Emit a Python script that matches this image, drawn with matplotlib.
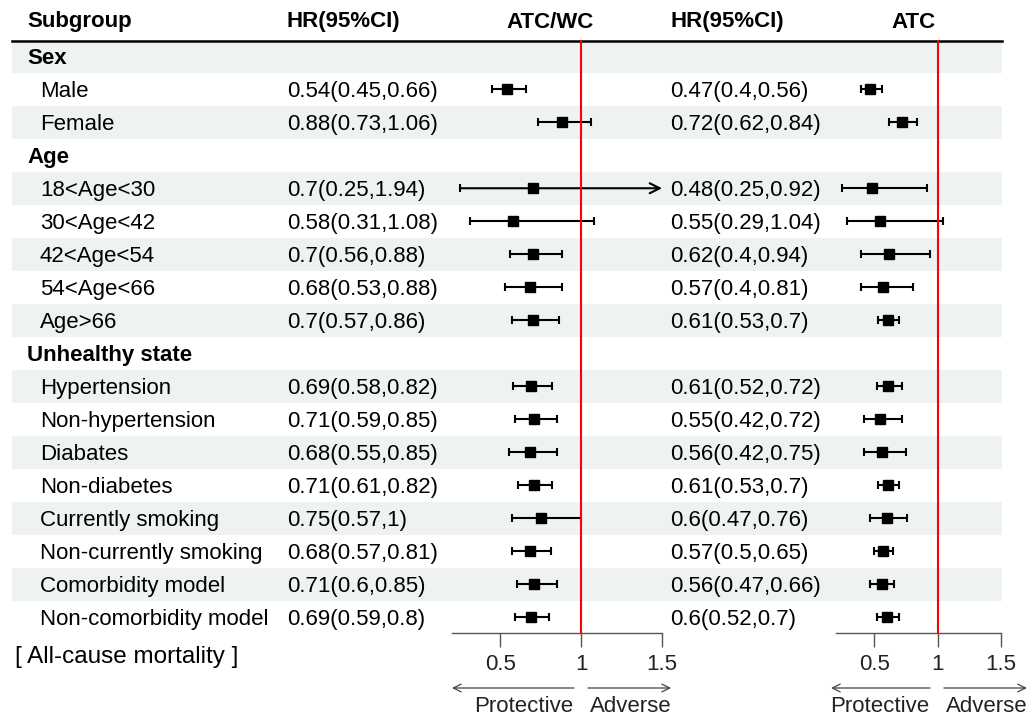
import matplotlib
matplotlib.use('Agg')
import matplotlib.pyplot as plt
from matplotlib.patches import Rectangle
import numpy as np

plt.rcParams['font.family'] = ['Liberation Sans', 'DejaVu Sans']

# datos de la tabla
labels = ['Sex', 'Male', 'Female', 'Age', '18<Age<30', '30<Age<42', '42<Age<54',
          '54<Age<66', 'Age>66', 'Unhealthy state', 'Hypertension', 'Non-hypertension',
          'Diabates', 'Non-diabetes', 'Currently smoking', 'Non-currently smoking',
          'Comorbidity model', 'Non-comorbidity model']
is_group = [True, False, False, True, False, False, False, False, False, True,
            False, False, False, False, False, False, False, False]

nan = np.nan
hr1 = np.array([nan, 0.54, 0.88, nan, 0.7, 0.58, 0.7, 0.68, 0.7, nan, 0.69, 0.71, 0.68, 0.71, 0.75, 0.68, 0.71, 0.69])
lo1 = np.array([nan, 0.45, 0.73, nan, 0.25, 0.31, 0.56, 0.53, 0.57, nan, 0.58, 0.59, 0.55, 0.61, 0.57, 0.57, 0.6, 0.59])
hi1 = np.array([nan, 0.66, 1.06, nan, 1.94, 1.08, 0.88, 0.88, 0.86, nan, 0.82, 0.85, 0.85, 0.82, 1, 0.81, 0.85, 0.8])
hr2 = np.array([nan, 0.47, 0.72, nan, 0.48, 0.55, 0.62, 0.57, 0.61, nan, 0.61, 0.55, 0.56, 0.61, 0.6, 0.57, 0.56, 0.6])
lo2 = np.array([nan, 0.4, 0.62, nan, 0.25, 0.29, 0.4, 0.4, 0.53, nan, 0.52, 0.42, 0.42, 0.53, 0.47, 0.5, 0.47, 0.52])
hi2 = np.array([nan, 0.56, 0.84, nan, 0.92, 1.04, 0.94, 0.81, 0.7, nan, 0.72, 0.72, 0.75, 0.7, 0.76, 0.65, 0.66, 0.7])

ticks = [0.5, 1, 1.5]
tick_labels = ['0.5', '1', '1.5']
xlim = (0.2, 1.5)

W, H = 1028, 717
top, rh, bottom = 40, 33, 633
n = len(labels)
fs = 16


def fmt_ci(h, l, u):
    if np.isnan(h):
        return ''
    return f'{h:g}({l:g},{u:g})'


fig = plt.figure(figsize=(W / 100, H / 100), dpi=100)
bg = fig.add_axes([0, 0, 1, 1])
bg.set_xlim(0, W)
bg.set_ylim(H, 0)
bg.axis('off')

# filas alternas
for i in range(n):
    if i % 2 == 0:
        bg.add_patch(Rectangle((12, top + i * rh), 990, rh, facecolor='#eff2f2', lw=0, zorder=0))

# encabezado
bg.plot([12, 1002], [41, 41], color='black', lw=1.8)
bg.text(27, 22, 'Subgroup', fontsize=fs, fontweight='bold', va='center')
bg.text(287, 22, 'HR(95%CI)', fontsize=fs, fontweight='bold', va='center')
bg.text(550, 22, 'ATC/WC', fontsize=fs, fontweight='bold', va='center', ha='center')
bg.text(671, 22, 'HR(95%CI)', fontsize=fs, fontweight='bold', va='center')
bg.text(913, 22, 'ATC', fontsize=fs, fontweight='bold', va='center', ha='center')

for i, lab in enumerate(labels):
    y = top + (i + 0.5) * rh + 2
    if is_group[i]:
        bg.text(27, y, lab, fontsize=fs, fontweight='bold', va='center')
    else:
        bg.text(40, y, lab, fontsize=fs, va='center')
    bg.text(287, y, fmt_ci(hr1[i], lo1[i], hi1[i]), fontsize=fs, va='center')
    bg.text(670, y, fmt_ci(hr2[i], lo2[i], hi2[i]), fontsize=fs, va='center')

bg.text(15, 657, '[ All-cause mortality ]', fontsize=17.5, va='center')


def forest(x0, x1, hr, lo, hi, arrows):
    ax = fig.add_axes([x0 / W, (H - bottom) / H, (x1 - x0) / W, (bottom - top) / H])
    ax.patch.set_alpha(0)
    ax.set_xlim(*xlim)
    ax.set_ylim(n, 0)
    for s in ['top', 'right', 'left']:
        ax.spines[s].set_visible(False)
    ax.spines['bottom'].set_color('#555555')
    ax.spines['bottom'].set_linewidth(1.0)
    ax.set_yticks([])
    ax.set_xticks(ticks)
    ax.set_xticklabels(tick_labels)
    ax.tick_params(axis='x', length=10, width=1, color='#555555', labelsize=fs,
                   labelcolor='#222222', pad=5)
    y = np.arange(n) + 0.5
    ok = ~np.isnan(hr) & (hi <= xlim[1])
    ax.errorbar(hr[ok], y[ok], xerr=[hr[ok] - lo[ok], hi[ok] - hr[ok]], fmt='none',
                ecolor='black', elinewidth=1.5, capsize=3, capthick=1.5, zorder=2)
    cut = ~np.isnan(hr) & (hi > xlim[1])
    for yy, l in zip(y[cut], lo[cut]):
        ax.annotate('', xy=(xlim[1], yy), xytext=(l, yy),
                    arrowprops=dict(arrowstyle='->', lw=1.5, color='black',
                                    mutation_scale=18, shrinkA=0, shrinkB=0), zorder=2)
        ax.plot([l], [yy], marker='|', ms=6, mew=1.5, color='black', zorder=2)
    ax.plot(hr, y, 's', ms=6.5, color='black', zorder=3)
    ax.axvline(1, color='red', lw=1.5, zorder=4)

    # flechas protective / adverse
    la, lb, ra, rb = arrows
    ax.annotate('', xy=(la, 29), xytext=(lb, 29), xycoords=('data', 'figure pixels'),
                textcoords=('data', 'figure pixels'), annotation_clip=False,
                arrowprops=dict(arrowstyle='->', lw=0.9, color='#444444', shrinkA=0, shrinkB=0,
                                mutation_scale=14))
    ax.annotate('', xy=(rb, 29), xytext=(ra, 29), xycoords=('data', 'figure pixels'),
                textcoords=('data', 'figure pixels'), annotation_clip=False,
                arrowprops=dict(arrowstyle='->', lw=0.9, color='#444444', shrinkA=0, shrinkB=0,
                                mutation_scale=14))
    ax.annotate('Protective', xy=(1, 11), xycoords=('data', 'figure pixels'),
                xytext=(-6, 0), textcoords='offset points', ha='right', va='center',
                fontsize=fs, color='#222222', annotation_clip=False)
    ax.annotate('Adverse', xy=(1, 11), xycoords=('data', 'figure pixels'),
                xytext=(6, 0), textcoords='offset points', ha='left', va='center',
                fontsize=fs, color='#222222', annotation_clip=False)
    return ax


forest(452, 662, hr1, lo1, hi1, (0.2, 0.955, 1.042, 1.556))
forest(836, 1001, hr2, lo2, hi2, (0.161, 0.94, 1.05, 1.704))

fig.savefig('out.png', dpi=100)
